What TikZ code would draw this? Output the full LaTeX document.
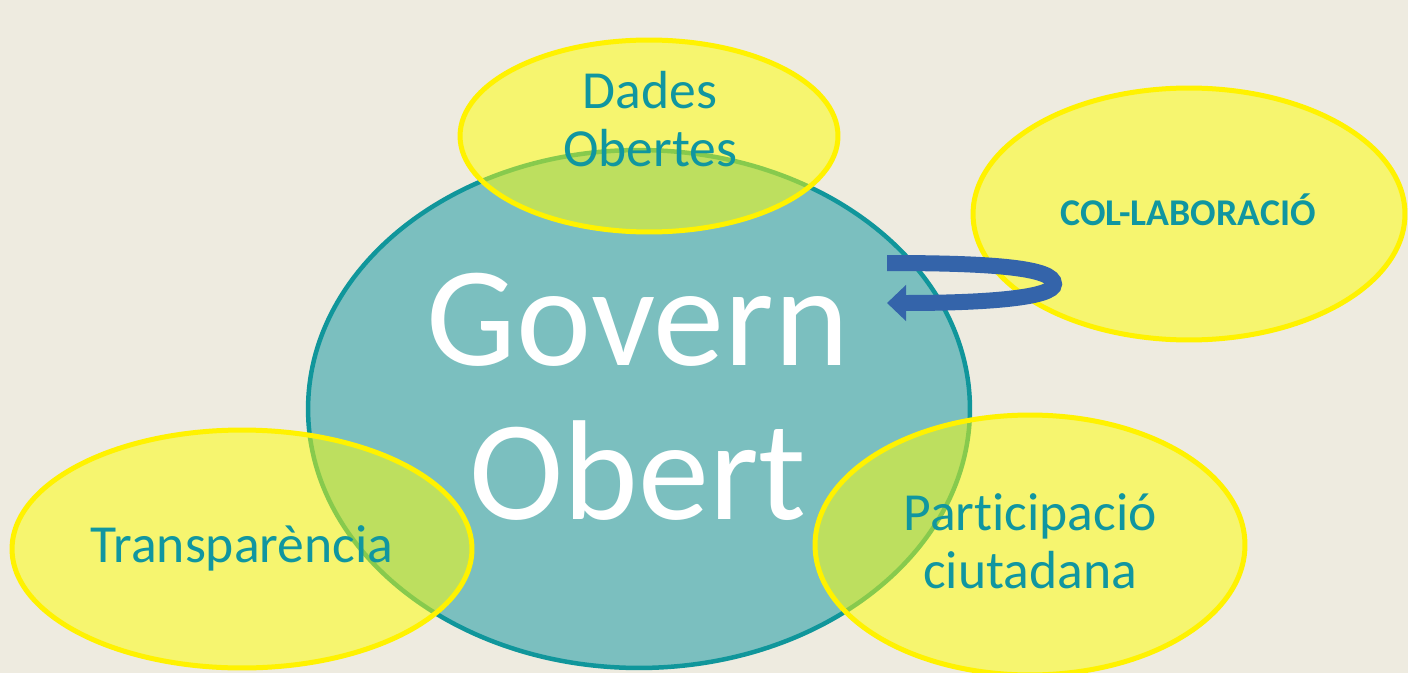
\documentclass[tikz,border=0pt]{standalone}
\usepackage{fontspec}
\setmainfont{Carlito}[Ligatures=NoCommon]
\usetikzlibrary{shapes.geometric, arrows.meta}

\definecolor{bgCream}{RGB}{238,235,224}
\definecolor{govTeal}{RGB}{123,191,191}
\definecolor{govEdge}{RGB}{16,150,155}
\definecolor{txtTeal}{RGB}{16,150,160}
\definecolor{pillarFill}{RGB}{255,255,0}
\definecolor{pillarEdge}{RGB}{255,242,0}
\definecolor{arrowBlue}{RGB}{52,100,170}

\tikzset{
  pillar/.style={ellipse, draw=pillarEdge, line width=0.1cm, fill=pillarFill, fill opacity=0.5, inner sep=0pt},
  pillarText/.style={text=txtTeal, align=center, font=\fontsize{30.5}{33}\selectfont},
}

\begin{document}
\begin{tikzpicture}[x=0.02cm, y=-0.02cm]
    % Background
    \useasboundingbox (0,0) rectangle (1408,672);
    \fill[bgCream] (-5,-5) rectangle (1413,677);
    \clip (0,0) rectangle (1408,672);

    % Central circle
    \node[ellipse, draw=govEdge, line width=0.09cm, fill=govTeal, minimum width=13.24cm, minimum height=10.36cm] (govern) at (639,409) {};

    % The four pillars
    \node[pillar, minimum width=7.56cm, minimum height=3.84cm] (dades) at (649,136) {};
    \node[pillar, minimum width=8.64cm, minimum height=5.04cm] (colab) at (1189,214) {};
    \node[pillar, minimum width=9.2cm, minimum height=4.76cm] (transp) at (242,549) {};
    \node[pillar, minimum width=8.6cm, minimum height=5.2cm] (partic) at (1030,545) {};

    % Labels
    \node[text=white, align=center, font=\fontsize{81}{88}\selectfont] (governTxt) at (638,397) {Govern\\Obert};
    \node[pillarText] (dadesTxt) at (650,119) {Dades\\Obertes};
    \node[text=txtTeal, font=\fontsize{21.5}{24}\bfseries] (colabTxt) at (1188,210) {COL-LABORACIÓ};
    \node[pillarText] (transpTxt) at (242,548) {Transparència};
    \node[pillarText] (particTxt) at (1030,541) {Participació\\ciutadana};

    % Turning arrow
    \coordinate (arrowStart) at (887,263);
    \coordinate (arrowEnd) at (887,303);
    \draw[arrowBlue, line width=0.32cm, -{Triangle[width=0.7cm, length=0.38cm]}]
      (arrowStart) .. controls (995,263) and (1054,268) .. (1054,284)
      .. controls (1054,298) and (985,303) .. (arrowEnd);

\end{tikzpicture}
\end{document}
